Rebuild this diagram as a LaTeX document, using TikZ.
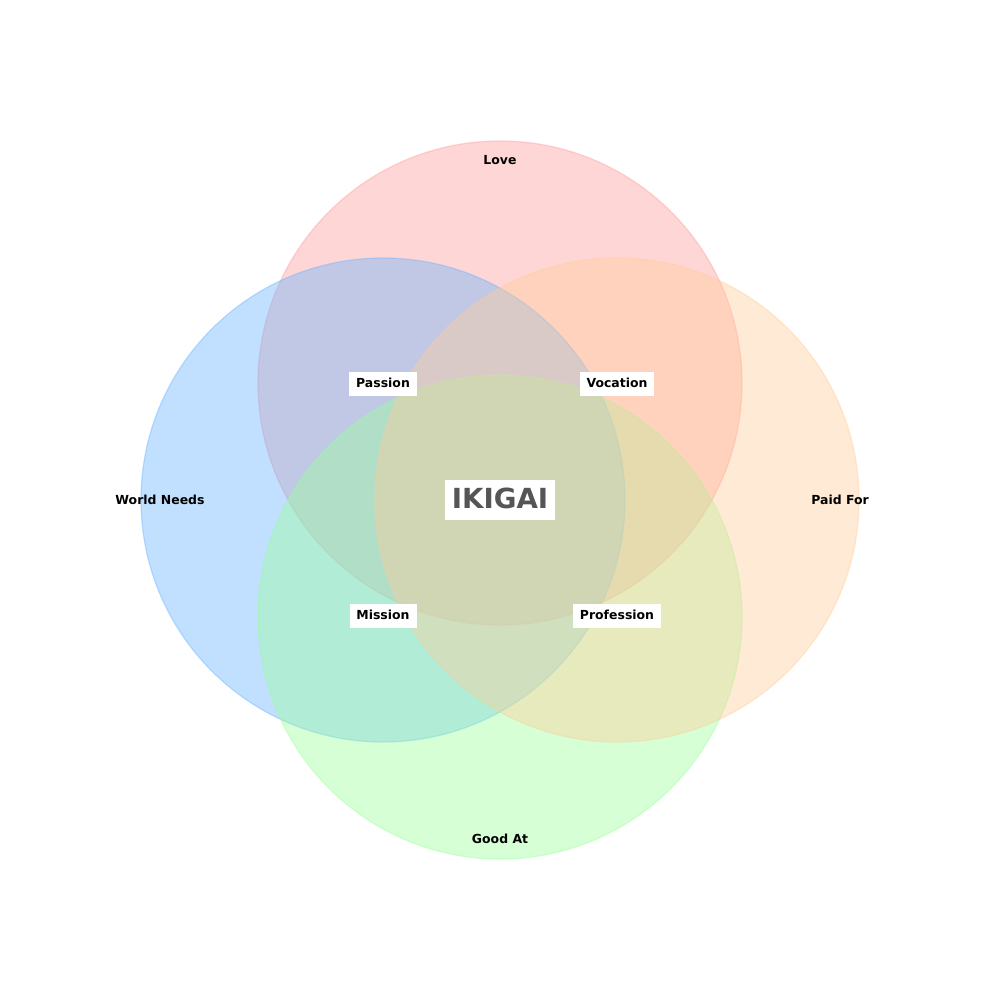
\documentclass[tikz,border=0pt]{standalone}
\usepackage{fontspec}
\setmainfont{DejaVu Sans}
\begin{document}
\begin{tikzpicture}[x=0.0254cm,y=-0.0254cm,
  venn/.style={draw=#1,fill=#1,opacity=0.4,line width=0.9pt},
  outerlbl/.style={font=\bfseries\fontsize{9}{10}\selectfont,text=black,inner sep=0pt},
  boxlbl/.style={font=\bfseries\fontsize{9}{10}\selectfont,text=black,fill=white,inner xsep=5pt,inner ysep=0pt,minimum height=17.6pt,text height=7pt,text depth=1.5pt},
  centerlbl/.style={font=\bfseries\fontsize{20}{22}\selectfont,text=centergray,fill=white,inner xsep=5pt,inner ysep=0pt,minimum height=29.5pt,text height=15pt,text depth=2pt}]
\definecolor{cLove}{HTML}{FF9999}
\definecolor{cWorld}{HTML}{66B3FF}
\definecolor{cGood}{HTML}{99FF99}
\definecolor{cPaid}{HTML}{FFCC99}
\definecolor{centergray}{HTML}{555555}
\useasboundingbox (0,0) rectangle (1000,1000);
\fill[white] (0,0) rectangle (1000,1000);
\path[venn=cLove] (500,383) circle[radius=242];
\path[venn=cWorld] (383,500) circle[radius=242];
\path[venn=cGood] (500,617) circle[radius=242];
\path[venn=cPaid] (617,500) circle[radius=242];
\node[outerlbl] (love) at (500,160) {Love};
\node[outerlbl] (good) at (500,839) {Good At};
\node[outerlbl] (world) at (160,500) {World Needs};
\node[outerlbl] (paid) at (840,500) {Paid For};
\node[boxlbl] (passion) at (383,384) {Passion};
\node[boxlbl] (vocation) at (617,384) {Vocation};
\node[boxlbl] (mission) at (383,616) {Mission};
\node[boxlbl] (profession) at (617,616) {Profession};
\node[centerlbl] (ikigai) at (500,500) {IKIGAI};
\end{tikzpicture}
\end{document}
